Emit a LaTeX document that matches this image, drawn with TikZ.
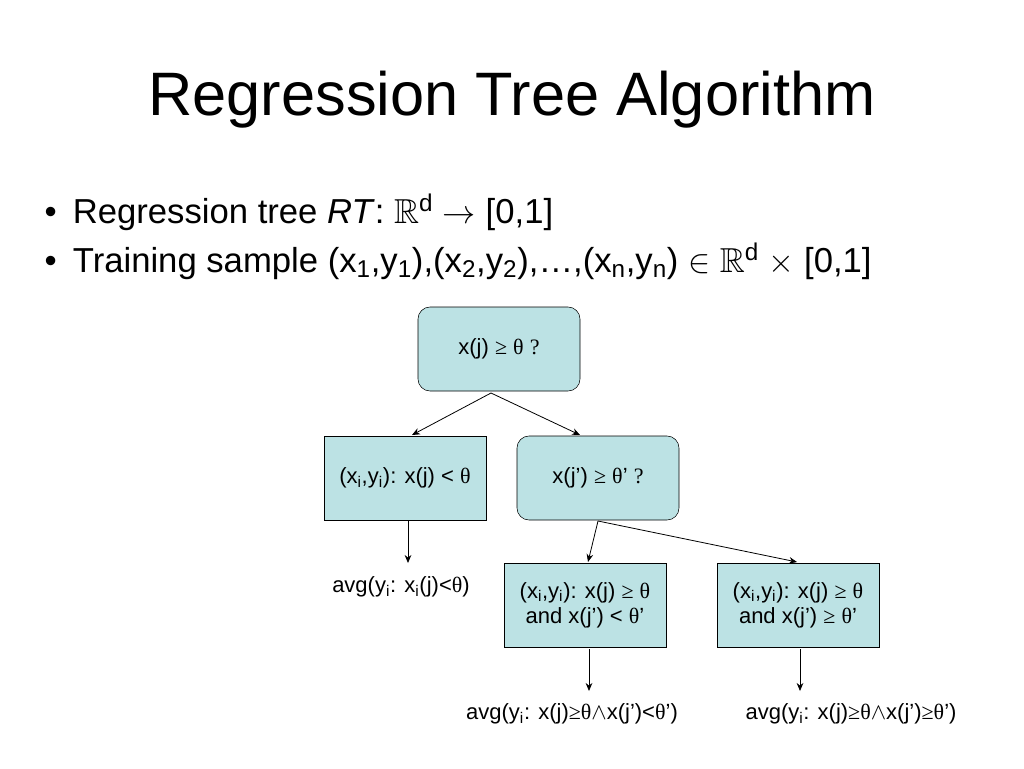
\documentclass[tikz,border=0pt]{standalone}
\usepackage{amssymb}
\usepackage{fontspec}
\setmainfont{Liberation Sans}
\newfontfamily\symf{Liberation Serif}
\usetikzlibrary{arrows.meta}
\definecolor{boxfill}{RGB}{188,226,228}
\newcommand{\sbs}[1]{\textsubscript{#1}}
\newcommand{\thet}{{\symf θ}}
\newcommand{\gee}{{\symf ≥}}
\newcommand{\RRd}{$\mathbb{R}$\textsuperscript{d}}
\begin{document}
\begin{tikzpicture}[x=0.75pt,y=-0.75pt,
  box/.style={draw=black,fill=boxfill,minimum width=121.5pt,minimum height=63pt,font=\fontsize{16.5}{19}\selectfont,align=center,inner sep=2pt},
  rbox/.style={box,rounded corners=9pt},
  arr/.style={-{Stealth[length=6pt,width=5pt]},line width=0.6pt},
  lab/.style={font=\fontsize{16.5}{19}\selectfont}]
\useasboundingbox (0,0) rectangle (1024,768);
\node[font=\fontsize{46}{52}\selectfont] (title) at (512,100) {Regression Tree Algorithm};
\node[anchor=west,font=\fontsize{26}{30}\selectfont] (b1) at (40,212) {•\hspace{12pt}Regression tree \textit{RT}: \RRd{} $\rightarrow$ [0,1]};
\node[anchor=west,font=\fontsize{26}{30}\selectfont] (b2) at (40,261) {•\hspace{12pt}Training sample (x\sbs{1},y\sbs{1}),(x\sbs{2},y\sbs{2}),\dots,(x\sbs{n},y\sbs{n}) $\in$ \RRd{} $\times$ [0,1]};
\node[rbox] (root) at (499,349) {x(j) \gee{} \thet{} {\symf ?}};
\node[box] (left) at (405,478) {(x\sbs{i},y\sbs{i}): x(j) < \thet};
\node[rbox] (right) at (598,478) {x(j’) \gee{} \thet’ {\symf ?}};
\node[box] (bl) at (585,605) {(x\sbs{i},y\sbs{i}): x(j) \gee{} \thet\\ and x(j’) < \thet’};
\node[box] (br) at (798,605) {(x\sbs{i},y\sbs{i}): x(j) \gee{} \thet\\ and x(j’) \gee{} \thet’};
\node[lab] (l1) at (401,587) {avg(y\sbs{i}: x\sbs{i}(j)<\thet)};
\node[lab] (l2) at (572,714) {avg(y\sbs{i}: x(j)\gee\thet$\wedge$x(j’)<\thet’)};
\node[lab] (l3) at (851,714) {avg(y\sbs{i}: x(j)\gee\thet$\wedge$x(j’)\gee\thet’)};
\coordinate (r0) at (491,393);
\draw[arr] (r0) -- (412,435);
\draw[arr] (r0) -- (580,435);
\coordinate (q0) at (598,521);
\draw[arr] (q0) -- (588,562);
\draw[arr] (q0) -- (797,562);
\draw[arr] (408,521) -- (408,563);
\draw[arr] (589,649) -- (589,691);
\draw[arr] (800,649) -- (800,691);
\end{tikzpicture}
\end{document}
